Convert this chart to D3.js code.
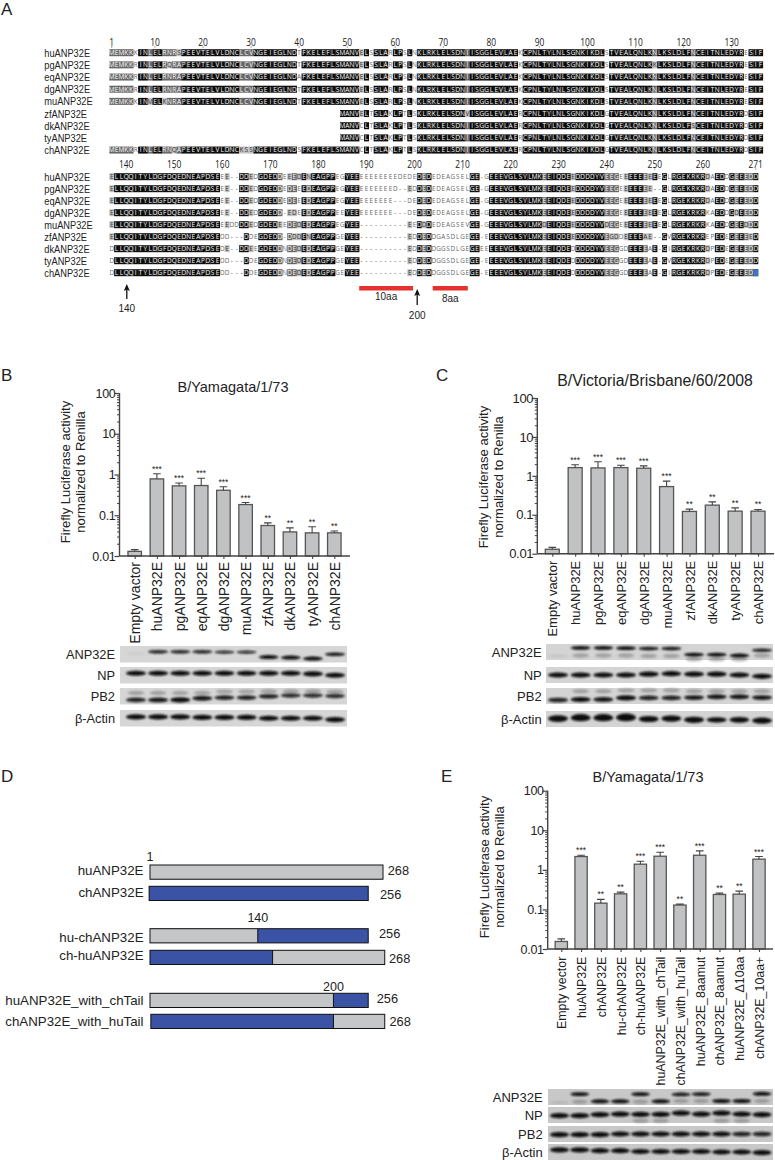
<!DOCTYPE html>
<html><head><meta charset="utf-8">
<script src="https://cdn.jsdelivr.net/npm/d3@7"></script>
<style>html,body{margin:0;padding:0;background:#fff}svg{display:block}text{font-family:"Liberation Sans",Arial,sans-serif;fill:#222}</style>
</head><body><svg id="c" width="775" height="1160"></svg>
<script>
// ---------- Panel A data ----------
const speciesNames=["huANP32E","pgANP32E","eqANP32E","dgANP32E","muANP32E","zfANP32E","dkANP32E","tyANP32E","chANP32E"];
const gapN="------------------------------------------------";
const blockOne=[
"MEMKKKINLELRNRSPEEVTELVLDNCLCVNGEIEGLNDTFKELEFLSMANVELSSLARLPSLNKLRKLELSDNIISGGLEVLAEKCPNLTYLNLSGNKIKDLSTVEALQNLKNLKSLDLFNCEITNLEDYRESIF",
"MEMKKRINLELRQRAPEEVTELVLDNCLCVNGEIEGLNDTFKELEFLSMANVELSSLARLPSLNKLRKLELSDNIISGGLEVLAEKCPNLTYLNLSGNKIKDLSTVEALQNLKKLKSLDLFNCEITNLEDYRESIF",
"MEMKKRINLELRNRAPEEVTELVLDNCLCVNGEIEGLNDAFKELEFLSMANVELSSLARLPSLNKLRKLELSDNIISGGLEVLAEKCPNLTYLNLSGNKIKDLSTVEALQNLKNLKSLDLFNCEITNLEDYRESIF",
"MEMKKRINLELRNRAPEEVTELVLDNCLCVNGEIEGLNDTFKELEFLSMANVELSSLARLPSLNKLRKLELSDNIISGGLEVLAEKCPNLTYLNLSGNKIKDLSTVEALQNLKNLKSLDLFNCEITNLEDYRESIF",
"MEMKKKINMELKNRAPEEVTELVLDNCLCVNGEIEGLNDTFKELEFLSMANVELSSLARLPSLNKLRKLELSDNIISGGLEVLAEKCPNLTYLNLSGNKIKDLSTVEALQNLKNLKSLDLFNCEITNLEDYRESIF",
gapN+"MANVELTSLAKLPTLSKLRKLELSDNVISGGLEVLAERCPNLTYLNLSGNKIKDLGTVEALQNLKNLKSLDLFNCEITNLEDYRDSIF",
gapN+"MANVCLTSLAKLPTLSKLRKLELSDNIISGGLEVLAERCPNLTYLNLSGNKIKDLGTVEALQNLKNLKSLDLFSCEITNLEDYRDSIF",
gapN+"MANVCLTSLAKLPTLSKLRKLELSDNIISGGLEVLAERCPNLTYLNLSGNKIKDLGTVEALQNLKNLKSLDLFNCEITNLEDYRDSIF",
"MEMKKRINLELRNQAPEEVTELVLDNCKSSNGEIEGLNDSFKELEFLSMANVCLTSLAKLPTLSKLRKLELSDNIISGGLEVLAERCPNLTYLNLSGNKIKDLGTVEALQNLKNLKSLDLFNCEITNLEDYRDSIF"
];
const coreA="EEEVGLSYLMKEEIQDEEDDDDYV", coreB="EEEVGLSYLMKEEIQDEDDDDDYV", coreM="EEEVGLSYLMKDEIQDEEDDDDYV";
const headE="ELLQQITYLDGFDQEDNEAPDSE", headD="DLLQQITYLDGFDQEDNEAPDSE";
const blockTwo=[
[headE,"EE--DDED","GDEDDEEEDENEAGPPEGYEE","EEEEEEEEDEDE","DED","EDEAGSEL","GE-G",coreA,"EEGEEEEEEEEEGL","RGEKRKR","DA","EDD","GEEEDD"],
[headE,"EE--DDED","GDEDDEDEEEDEAGPPEGYEE","EEEEEEED--ED","DED","EDEAGSEL","GE-G",coreA,"EEGEEEEEEE--GL","RGEKRKR","DA","EDD","GEEEDD"],
[headE,"EE--DDED","GDEDDEDEEEDEAGPPEGYEE","EEEEEEE---DE","DED","EDEAGSEL","GE-G",coreA,"EEGEEEEEEEEEGL","RGEKRKR","DA","EDD","GEEEDD"],
[headE,"EE--DDED","GDEDD-EDEEDEAGPPEEYEE","EEEEEEE---DE","DED","EDEAGSEL","GE-G",coreA,"EEGEEEEEEEEEGL","RGEKRKR","KA","EDD","GDEEDD"],
[headE,"EEDDDDED","GDEDEEDEDEDEAGPPEGYEE","----------EE","DDD","EDEAGSEV","GE-G",coreM,"DEGEEEEEEEEEGL","RGEKRKR","KA","EDD","GEEDDD"],
[headE,"DD---DDE","GDEDD-DDDENEAGPPGEYEE","----------ED","DED","DGASDLGE","GE-E",coreA,"EGDDEEEEAE--GV","RGEKRKR","EP","EDE","GEEEED"],
[headD,"DE--DDEE","GDEDDNDEDEDEAGPPGEYEE","----------ED","DED","DGGSDLGE","GEEE",coreB,"EEGGDEEEEAE-GI","RGEKRKR","DP","EDE","GEEEDD"],
[headD,"DD---DDE","GDEDDNDEDEDEAGPPGEYEE","----------ED","DED","DGGSDLGE","GE-E",coreB,"EEGGDEEEEAE-GV","RGEKRKR","DP","EDE","GEEEDD"],
[headD,"DD---DDE","GDEDDNDEDEDEAGPPGEYEE","----------ED","DED","DGGSDLGE","GE-E",coreB,"EEGGDEEEEAE-GI","RGEKRKR","DP","EDE","GEEEDD"]
].map(p=>p.join(""));
const rulerOne=[1,10,20,30,40,50,60,70,80,90,100,110,120,130];
const rulerTwo=[140,150,160,170,180,190,200,210,220,230,240,250,260,271];
const softColumns=[0,1,2,3,4];

// ---------- Bar chart data ----------
const namesB=["Empty vactor","huANP32E","pgANP32E","eqANP32E","dgANP32E","muANP32E","zfANP32E","dkANP32E","tyANP32E","chANP32E"];
const meanB=[0.013,0.78,0.526,0.536,0.41,0.183,0.056,0.039,0.037,0.037];
const topB =[0.0143,1.04,0.62,0.81,0.5,0.205,0.065,0.049,0.052,0.041];
const starsB=["","***","***","***","***","***","**","**","**","**"];
const meanC=[0.013,1.63,1.6,1.63,1.57,0.53,0.122,0.177,0.124,0.124];
const topC =[0.0145,1.92,2.3,1.88,1.8,0.73,0.14,0.215,0.15,0.137];
const starsC=["","***","***","***","***","***","**","**","**","**"];
const namesE=["Empty vector","huANP32E","chANP32E","hu-chANP32E","ch-huANP32E","huANP32E_with_chTail","chANP32E_with_huTail","huANP32E_8aamut","chANP32E_8aamut","huANP32E_Δ10aa","chANP32E_10aa+"];
const meanE=[0.0155,2.17,0.144,0.248,1.39,2.21,0.129,2.34,0.239,0.243,1.86];
const topE =[0.018,2.34,0.179,0.274,1.65,2.79,0.136,3.01,0.258,0.29,2.17];
const starsE=["","***","**","**","***","***","**","***","**","**","***"];
const majorTicks=[100,10,1,0.1,0.01];
const majorLabels=["100","10","1","0.1","0.01"];
const minorTicks=[];[0.01,0.1,1,10].forEach(d=>[2,3,4,5,6,7,8,9].forEach(m=>minorTicks.push(d*m)));
const yTitleOne="Firefly Luciferase activity", yTitleTwo="normalized to Renilla";

// ---------- Blot data (band centre as share of strip height, band strength 0..1) ----------
const blotNames=["ANP32E","NP","PB2","β-Actin"];
const blotBPos=[
 [.45,.35,.35,.35,.37,.37,.67,.7,.76,.5],
 [.38,.38,.38,.38,.38,.38,.38,.38,.42,.5],
 [.72,.72,.72,.62,.58,.58,.5,.45,.45,.48],
 [.42,.42,.42,.45,.45,.45,.5,.5,.5,.58]];
const blotBStr=[
 [.06,.9,.9,.9,.85,.85,1,1,1,.95],
 [1,1,1,1,1,1,1,1,1,1],
 [.9,.95,1,.95,.9,.9,.9,.85,.85,.85],
 [1,1,1,1,1,1,1,1,1,1]];
const blotBGhost=[[],[],[.3,.3,.3,.3,.22,.22,.2,.2,.2,.22],[]];
const blotCPos=[
 [.75,.24,.24,.26,.28,.28,.67,.67,.72,.39],
 [.5,.5,.5,.5,.45,.42,.45,.45,.5,.58],
 [.75,.72,.72,.62,.62,.62,.6,.55,.55,.6],
 [.47,.42,.42,.4,.5,.47,.55,.55,.55,.6]];
const blotCStr=[
 [.1,1,1,1,.95,.95,1,1,1,.9],
 [1,1,1,1,1,1,1,1,1,1],
 [.9,1,.95,1,.9,.9,.95,.95,.95,.95],
 [1.3,1.4,1.4,1.5,1.2,1.2,1.2,1,1.1,1.2]];
const blotCGhost=[[0,.72,.72,.72,.75,.75,.95,.95,.95,.72],[],[0,.2,.2,.15,.15,.15,.2,.2,.2,.2],[]];
const blotEPos=[
 [.85,.32,.77,.77,.32,.77,.34,.32,.75,.75,.3],
 [.54,.54,.48,.44,.46,.46,.38,.44,.38,.44,.48],
 [.54,.54,.54,.5,.5,.5,.5,.5,.5,.5,.5],
 [.37,.37,.42,.42,.47,.47,.47,.47,.5,.5,.54]];
const blotEStr=[
 [.12,1,1,1,1,1,.95,.95,1,1,1],
 [1,1,1,1,1,1,1,1,1,1,1],
 [1,1,1,1,1,1,1,1,1,.9,.9],
 [1,1,1,1,1,1,1,1,1,1,1]];
const blotEGhost=[[0,.8,0,0,.8,0,.75,.75,0,0,.75],[0,0,0,0,.85,.85,0,0,.85,.85,0],[],[]];

// ---------- Panel D data (bar lengths in scale units) ----------
const constructNames=["huANP32E","chANP32E","hu-chANP32E","ch-huANP32E","huANP32E_with_chTail","chANP32E_with_huTail"];
const constructStart=[0,-1,0,0,0,1];
const constructCut=[268,251,124,141,211,211];
const constructEnd=[268,251,251,270,251,270];
const constructFirst=["hu","ch","hu","ch","hu","ch"];
const constructLen=["268","256","256","268","256","268"];
const calloutNames=["1","140","200"];
const calloutPos=[0,124,211];
const tinyRefs=[["10aa"],["8aa"]];

// ---------- Drawing ----------
const svg=d3.select("#c");
const defs=svg.append("defs");
defs.append("filter").attr("id","blur").attr("x","-20%").attr("y","-60%").attr("width","140%").attr("height","220%")
 .append("feGaussianBlur").attr("stdDeviation",0.8);

[["A",1,15],["B",1,381],["C",436,381],["D",1,782],["E",441,782]].forEach(([t,x,y])=>
 svg.append("text").attr("x",x).attr("y",y).attr("font-size",17).text(t));

// Panel A
const colX=d3.scaleLinear().domain([0,136]).range([109.3,109.3+136*4.806]);
function alignment(rows,rowY,offset,ruler,rulerY){
 const g=svg.append("g");
 const n=d3.max(rows,r=>r.length);
 const levels=[];
 for(let c=0;c<n;c++){
  const col=rows.map(r=>r[c]||"-").filter(ch=>ch!=="-");
  const counts=d3.rollups(col,v=>v.length,d=>d);
  const max=d3.max(counts,d=>d[1])||0, cons=col.length?max/col.length:0;
  const top=(d3.greatest(counts,d=>d[1])||[""])[0];
  let lv=0;
  if(max>=5){lv=cons===1&&col.length>=6?3:cons>=.75?2:cons>=.6?1:0;}
  if(offset===0&&softColumns.includes(c))lv=2;
  levels.push({lv,top});
 }
 const fillC=["none","#c4c4c4","#666","#0c0c0c"];
 rows.forEach((r,i)=>{
  g.append("text").attr("font-size",10.3)
   .attr("transform",`translate(44.3,${rowY(i)+4}) scale(.9,1)`)
   .text(speciesNames[i]);
  const cells=[...r].map((ch,c)=>({ch,c,lv:ch===levels[c].top?levels[c].lv:(levels[c].lv>=2?1:0)}));
  g.selectAll(null).data(cells.filter(d=>d.ch!=="-"&&d.lv>0)).join("rect")
   .attr("x",d=>colX(d.c)).attr("width",colX(1)-colX(0)+.2).attr("y",rowY(i)-3.5).attr("height",7)
   .attr("fill",d=>fillC[d.lv]);
  g.selectAll(null).data(cells.filter(d=>!(d.ch==="-"&&r.slice(0,d.c+1).replace(/-/g,"")===""&&offset===0))).join("text")
   .attr("x",d=>colX(d.c+.5)).attr("y",rowY(i)+2.3).attr("text-anchor","middle")
   .attr("font-size",6.4).style("font-family","Open Sans")
   .style("fill",d=>d.lv>=2?"#fff":d.lv===1?"#333":"#666").text(d=>d.ch);
 });
 ruler.forEach(v=>{
  const x=colX(v-offset-.5);
  g.append("text").attr("font-size",10.5).style("font-family","Open Sans").attr("text-anchor","middle")
   .attr("transform",`translate(${x},${rulerY}) scale(.8,1)`).text(v);
  g.append("line").attr("x1",x).attr("x2",x).attr("y1",rulerY+.5).attr("y2",rulerY+2.5).attr("stroke","#777").attr("stroke-width",.6);
 });
 return g;
}
alignment(blockOne,i=>52.7+i*12.17,0,rulerOne,45.5);
const g2=alignment(blockTwo,i=>176.7+i*12,136,rulerTwo,167.5);
g2.append("rect").attr("x",colX(134)).attr("y",176.7+8*12-3.5).attr("width",colX(1)-colX(0)).attr("height",7).attr("fill","#4472c4");
// annotations
function arrow(x,y1,y2,label,ly){
 svg.append("line").attr("x1",x).attr("x2",x).attr("y1",y2).attr("y2",y1+4).attr("stroke","#111").attr("stroke-width",1.3);
 svg.append("path").attr("d",`M${x},${y1}L${x+3},${y1+7}L${x},${y1+5.5}L${x-3},${y1+7}Z`).attr("fill","#111");
 svg.append("text").attr("x",x).attr("y",ly).attr("text-anchor","middle").attr("font-size",10).text(label);
}
arrow(126.8,284,299,"140",311.5);
arrow(417.2,289,305,"200",318.5);
[[52,63.2,tinyRefs[0][0],300],[67.3,74.6,tinyRefs[1][0],301.5]].forEach(([a,b,t,ly])=>{
 svg.append("rect").attr("x",colX(a)).attr("y",286).attr("width",colX(b)-colX(a)).attr("height",4.5).attr("fill","#e5302c");
 svg.append("text").attr("x",(colX(a)+colX(b))/2).attr("y",ly).attr("text-anchor","middle").attr("font-size",10).text(t);
});

// Bar panels
function barPanel(o){
 const g=svg.append("g");
 const y=d3.scaleLog().domain([0.01,100]).range([o.y0,o.y100]);
 const x=d3.scalePoint().domain(o.names).range([o.c0,o.cN]);
 const minor=g.append("g").attr("transform",`translate(${o.ax},0)`).call(d3.axisLeft(y).tickValues(minorTicks).tickSize(2.5).tickFormat(""));
 minor.select(".domain").remove();
 const maj=g.append("g").attr("transform",`translate(${o.ax},0)`).call(d3.axisLeft(y).tickValues(majorTicks).tickSize(5).tickFormat((d,i)=>majorLabels[i]));
 g.selectAll("line").attr("stroke","#444");
 maj.select(".domain").attr("d",`M0,${y(100)}V${y(0.01)}`).attr("stroke","#444").attr("stroke-width",1.4).attr("fill","none");
 maj.selectAll("line").attr("stroke-width",1.2);
 maj.selectAll("text").attr("font-size",o.tick).attr("x",-4).style("letter-spacing","-0.3px").attr("fill","#222").style("font-family","Liberation Sans");
 const hw=o.bw/2;
 g.selectAll(null).data(o.names).join("rect").attr("x",d=>x(d)-hw).attr("width",o.bw)
  .attr("y",(d,i)=>y(o.mean[i])).attr("height",(d,i)=>y(0.01)-y(o.mean[i]))
  .attr("fill","#c1c2c3").attr("stroke","#555").attr("stroke-width",1.3);
 g.selectAll(null).data(o.names).join("path")
  .attr("d",(d,i)=>`M${x(d)},${y(o.mean[i])}V${y(o.top[i])}M${x(d)-3.8},${y(o.top[i])}H${x(d)+3.8}`)
  .attr("stroke","#444").attr("stroke-width",1.1).attr("fill","none");
 g.selectAll(null).data(o.names).join("text").attr("x",d=>x(d)).attr("y",(d,i)=>y(o.top[i])-2)
  .attr("text-anchor","middle").attr("font-size",8.5).text((d,i)=>o.stars[i]);
 const xa=g.append("g").attr("transform",`translate(0,${o.y0})`).call(d3.axisBottom(x).tickSize(3));
 xa.select(".domain").attr("d",`M${o.ax},0H${o.axEnd}`).attr("stroke","#444").attr("stroke-width",1.4).attr("fill","none");
 xa.selectAll("line").attr("stroke","#444").attr("stroke-width",1.1);
 xa.selectAll("text").attr("transform","rotate(-90)").attr("x",-o.xGap).attr("y",0).attr("dy",".36em")
  .attr("text-anchor","end").attr("font-size",o.xFont).attr("fill","#222").style("font-family","Liberation Sans");
 g.append("text").attr("x",o.tx).attr("y",o.ty).attr("text-anchor","middle").attr("font-size",o.tf||14.5).text(o.title);
 [[yTitleOne,o.l1],[yTitleTwo,o.l2]].forEach(([t,bx])=>
  g.append("text").attr("transform",`translate(${bx},${o.lc}) rotate(-90)`).attr("text-anchor","middle").attr("font-size",o.lf).text(t));
}
barPanel({names:namesB,mean:meanB,top:topB,stars:starsB,y0:556,y100:393,ax:119.5,axEnd:350,c0:134.7,cN:334.3,bw:13.5,tick:12.5,xGap:6,xFont:14,title:"B/Yamagata/1/73",tx:233,ty:391.5,l1:70,l2:85,lc:472,lf:13});
barPanel({names:namesB,mean:meanC,top:topC,stars:starsC,y0:553.7,y100:398,ax:537.3,axEnd:774,c0:552.3,cN:758,bw:14,tick:13,xGap:7,xFont:13,title:"B/Victoria/Brisbane/60/2008",tx:655,ty:386,tf:15.8,l1:488,l2:503,lc:477,lf:13});
barPanel({names:namesE,mean:meanE,top:topE,stars:starsE,y0:949,y100:790.7,ax:547.7,axEnd:773,c0:561.3,cN:759,bw:12.3,tick:12.5,xGap:7.7,xFont:12.4,title:"B/Yamagata/1/73",tx:648,ty:782.3,l1:489,l2:504,lc:867,lf:13});

// Blots
function blots(o){
 const lanes=d3.scalePoint().domain(d3.range(o.pos[0].length)).range([o.l0,o.lN]);
 const g=svg.append("g");
 blotNames.forEach((name,k)=>{
  const y0=o.ys[k],h=o.h;
  g.append("rect").attr("x",o.x0).attr("y",y0).attr("width",o.x1-o.x0).attr("height",h).attr("fill",o.bg);
  g.append("text").attr("x",o.lx).attr("y",y0+h/2+o.ld).attr("text-anchor","end").attr("font-size",o.lf).text(name);
  const my=d3.scaleLinear().domain([0,1]).range([y0,y0+h]);
  const bands=g.append("g").attr("filter","url(#blur)");
  (o.ghost[k]||[]).forEach((p,i)=>{ if(p>0)
   bands.append("ellipse").attr("cx",lanes(i)).attr("cy",my(p)).attr("rx",o.rx*.85).attr("ry",2.2).attr("fill","#777").attr("opacity",.55);
  });
  o.pos[k].forEach((p,i)=>{
   const s=o.str[k][i];
   bands.append("ellipse").attr("cx",lanes(i)).attr("cy",my(p)).attr("rx",o.rx).attr("ry",o.ry*Math.max(s,.4)*(k===0&&s>.8?.75:1))
    .attr("fill","#0b0b0b").attr("opacity",Math.min(1,s));
  });
 });
}
blots({pos:blotBPos,str:blotBStr,ghost:blotBGhost,x0:120,x1:347,l0:136,lN:335,ys:[646,667,688,710],h:16.5,bg:"#d6d6d6",lx:115,lf:12.8,ld:4.5,rx:10,ry:2.6});
blots({pos:blotCPos,str:blotCStr,ghost:blotCGhost,x0:546,x1:773,l0:558,lN:762,ys:[644,667,688,711],h:16,bg:"#d4d4d4",lx:541.7,lf:13,ld:4.5,rx:10,ry:2.6});
blots({pos:blotEPos,str:blotEStr,ghost:blotEGhost,x0:548,x1:773,l0:559.5,lN:762,ys:[1089,1107,1126,1144],h:16,bg:"#c8c8c8",lx:542.7,lf:13,ld:4.5,rx:9.5,ry:2.6});

// Panel D
const sx=d3.scaleLinear().domain([0,268]).range([150,383]);
const rowYs=d3.scaleOrdinal().domain(constructNames).range([865,886.3,928.7,950.3,993.3,1014.3]);
const nameBase=[875,897,941.7,960,1005,1025.7];
const lenBase=[875,899,938,962.7,1002.7,1026];
const lenX=[387.7,380,379,389,376.7,389.5];
const col={hu:"#c4c6c8",ch:"#3a53a4"};
constructNames.forEach((n,i)=>{
 const y=rowYs(n),h=14.2;
 const a=sx(constructStart[i]),m=sx(constructCut[i]),e=sx(constructEnd[i]);
 const first=constructFirst[i],second=first==="hu"?"ch":"hu";
 svg.append("rect").attr("x",a).attr("y",y).attr("width",e-a).attr("height",h).attr("fill",col[second]);
 if(m>a)svg.append("rect").attr("x",a).attr("y",y).attr("width",m-a).attr("height",h).attr("fill",col[first]);
 svg.append("rect").attr("x",a).attr("y",y).attr("width",e-a).attr("height",h).attr("fill","none").attr("stroke","#111").attr("stroke-width",1);
 if(m>a&&m<e)svg.append("line").attr("x1",m).attr("x2",m).attr("y1",y).attr("y2",y+h).attr("stroke","#111").attr("stroke-width",1);
 svg.append("text").attr("x",143.5).attr("y",nameBase[i]).attr("text-anchor","end").attr("font-size",13.3).text(n);
 svg.append("text").attr("x",lenX[i]).attr("y",lenBase[i]).attr("font-size",12.8).text(constructLen[i]);
});
[860.7,922,991].forEach((ly,i)=>svg.append("text").attr("x",sx(calloutPos[i])).attr("y",ly).attr("text-anchor","middle").attr("font-size",12.5).text(calloutNames[i]));
</script></body></html>
